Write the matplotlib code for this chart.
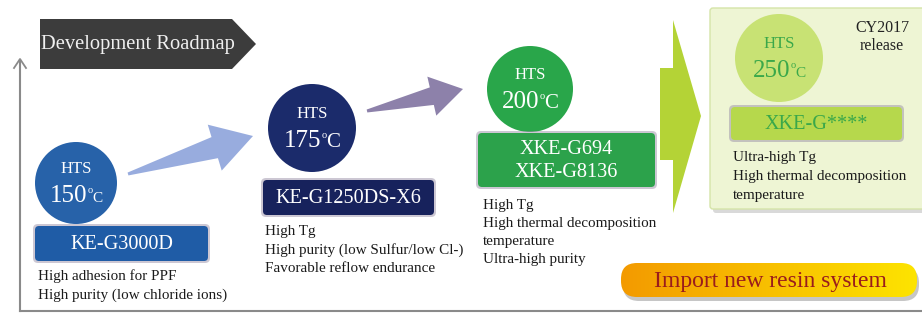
import numpy as np
import matplotlib.pyplot as plt
from matplotlib.patches import Circle, FancyBboxPatch, Polygon
from matplotlib.colors import LinearSegmentedColormap

plt.rcParams['font.family'] = ['Liberation Serif', 'DejaVu Serif']

# ---- content ----
temps = ['150', '175', '200', '250']
products = ['KE-G3000D', 'KE-G1250DS-X6', 'XKE-G694\nXKE-G8136', 'XKE-G****']
features = [
    ['High adhesion for PPF', 'High purity (low chloride ions)'],
    ['High Tg', 'High purity (low Sulfur/low Cl-)', 'Favorable reflow endurance'],
    ['High Tg', 'High thermal decomposition', 'temperature', 'Ultra-high purity'],
    ['Ultra-high Tg', 'High thermal decomposition', 'temperature'],
]
title = 'Development Roadmap'
release = 'CY2017\nrelease'
footer = 'Import new resin system'

# ---- layout (pixels, y down) ----
circles = [(76, 183, 41), (312, 128, 44), (530, 89, 43), (779, 58, 44)]
boxes = [(35, 226, 208, 261), (263, 180, 434, 215), (478, 133, 655, 187), (731, 107, 902, 140)]
desc_pos = [(38, 276, 19), (265, 232, 18.5), (483, 205, 18), (733, 158, 18.5)]
circle_col = ['#2762a9', '#1b2b6b', '#29a64a', '#c8e274']
box_col = ['#1f5ca6', '#17225c', '#2ca24b', '#b6d84c']
label_col = ['white', 'white', 'white', '#3aa84a']
unit_big = [False, True, True, False]

fig = plt.figure(figsize=(9.22, 3.16), dpi=100)
ax = fig.add_axes([0, 0, 1, 1])
ax.set_xlim(0, 922)
ax.set_ylim(316, 0)
ax.axis('off')

# axes lines
ax.plot([20, 20], [311, 60], color='#8a8a8a', lw=1.5)
ax.plot([20, 922], [311, 311], color='#8a8a8a', lw=1.5)
ax.plot([14, 20, 26], [68, 59, 68], color='#8a8a8a', lw=1.3)

# title banner
ax.add_patch(Polygon([[40, 19], [232, 19], [256, 44], [232, 69], [40, 69]],
                     closed=True, fc='#3c3c3c', ec='none'))
ax.text(138, 45, title, color='#f0f0f0', fontsize=14.8, ha='center', va='center')


def wedge_arrow(tail, tip, shaft_w, head_w, head_len, color):
    t = np.array(tail, float)
    p = np.array(tip, float)
    d = (p - t) / np.linalg.norm(p - t)
    n = np.array([-d[1], d[0]])
    base = p - d * head_len
    pts = [t + n * 1.5, base + n * shaft_w / 2, base + n * head_w / 2, p,
           base - n * head_w / 2, base - n * shaft_w / 2, t - n * 1.5]
    ax.add_patch(Polygon(pts, closed=True, fc=color, ec='none'))


wedge_arrow((128, 174), (253, 136), 22, 48, 40, '#98acde')
wedge_arrow((367, 111), (463, 89), 18, 40, 32, '#8d81aa')

# big green arrow
ax.add_patch(Polygon([[660, 68], [673, 68], [673, 20], [701, 116], [673, 213], [673, 160], [660, 160]],
                     closed=True, fc='#b4d336', ec='none'))

# final panel
ax.add_patch(FancyBboxPatch((713, 12), 215, 201, boxstyle='round,pad=0,rounding_size=3',
                            fc='#c9c9c9', ec='none', alpha=0.7))
ax.add_patch(FancyBboxPatch((710, 8), 215, 201, boxstyle='round,pad=0,rounding_size=3',
                            fc='#eef5d4', ec='#d5e4a8', lw=1))
ax.text(882, 37, release, fontsize=11.5, ha='center', va='center', color='#222222', linespacing=1.1)

fig.canvas.draw()
renderer = fig.canvas.get_renderer()


def temp_label(cx, y, num, col, big_unit):
    a = ax.text(0, y, num, fontsize=18, color=col, va='baseline')
    o = ax.text(0, y - 9, 'o', fontsize=7.5, color=col, va='baseline')
    c = ax.text(0, y, 'C', fontsize=15 if big_unit else 11, color=col, va='baseline')
    w = [t.get_window_extent(renderer).width for t in (a, o, c)]
    x = cx - sum(w) / 2
    a.set_x(x)
    o.set_x(x + w[0])
    c.set_x(x + w[0] + w[1])


for i in range(4):
    cx, cy, r = circles[i]
    ax.add_patch(Circle((cx, cy), r, fc=circle_col[i], ec='none'))
    ax.text(cx, cy - 14, 'HTS', fontsize=12, color=label_col[i], ha='center', va='center')
    temp_label(cx, cy + 19, temps[i], label_col[i], unit_big[i])

    x0, y0, x1, y1 = boxes[i]
    ax.add_patch(FancyBboxPatch((x0 - 2, y0 - 2), x1 - x0 + 4, y1 - y0 + 4,
                                boxstyle='round,pad=0,rounding_size=5', fc='#9a90a8', ec='none', alpha=0.5))
    ax.add_patch(FancyBboxPatch((x0, y0), x1 - x0, y1 - y0,
                                boxstyle='round,pad=0,rounding_size=4', fc=box_col[i], ec='none'))
    ax.text((x0 + x1) / 2, (y0 + y1) / 2 + 1, products[i], fontsize=14.6, color=label_col[i],
            ha='center', va='center', linespacing=1.25)

    dx, dy, sp = desc_pos[i]
    for j, line in enumerate(features[i]):
        ax.text(dx, dy + j * sp, line, fontsize=10.9, color='#1a1a1a', ha='left', va='center')

# footer pill with orange -> yellow gradient
pill = FancyBboxPatch((621, 263), 296, 34, boxstyle='round,pad=0,rounding_size=16',
                      fc='none', ec='none')
ax.add_patch(FancyBboxPatch((623, 267), 296, 34, boxstyle='round,pad=0,rounding_size=16',
                            fc='#a0a0a0', ec='none', alpha=0.6))
ax.add_patch(pill)
grad = np.linspace(0, 1, 256).reshape(1, -1)
cmap = LinearSegmentedColormap.from_list('og', ['#f39a00', '#f8c000', '#fde400'])
im = ax.imshow(grad, extent=[621, 917, 297, 263], cmap=cmap, aspect='auto', zorder=2)
im.set_clip_path(pill)
ax.text(770, 281, footer, fontsize=17, color='#9a1c1c', ha='center', va='center', zorder=3)

ax.set_xlim(0, 922)
ax.set_ylim(316, 0)
fig.savefig('out.png', dpi=100)
